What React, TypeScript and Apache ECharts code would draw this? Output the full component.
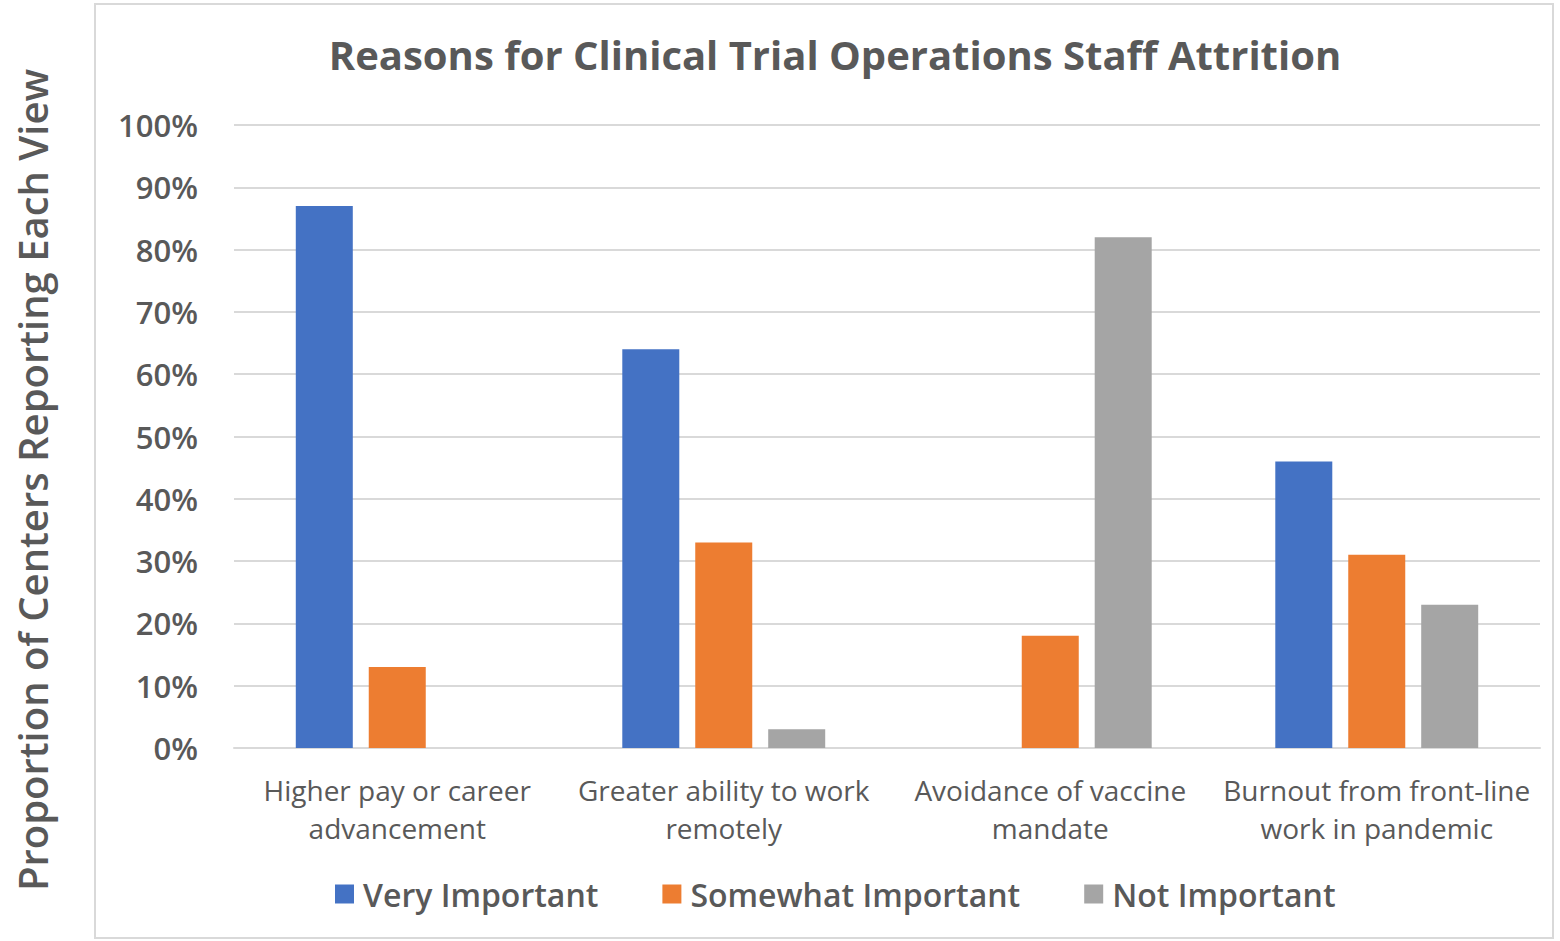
import React, { useEffect, useRef } from "react";
import * as echarts from "echarts";

const categories = [
  "Higher pay or career\nadvancement",
  "Greater ability to work\nremotely",
  "Avoidance of vaccine\nmandate",
  "Burnout from front-line\nwork in pandemic",
];
const veryImportant = [87, 64, 0, 46];
const somewhatImportant = [13, 33, 18, 31];
const notImportant = [0, 3, 82, 23];
const yTicks = { min: 0, max: 100, interval: 10 };

const FONT = "'Open Sans', Lato, sans-serif";
const TXT = "#595959";

export default function App() {
  const ref = useRef<HTMLDivElement>(null);
  useEffect(() => {
    document.body.style.margin = "0";
    const chart = echarts.init(ref.current!, null, { renderer: "svg" });
    const bar = (name: string, data: number[], color: string) => ({
      name,
      type: "bar",
      data,
      barWidth: 57,
      barGap: "28%",
      itemStyle: { color },
    });
    chart.setOption({
      animation: false,
      backgroundColor: "#ffffff",
      textStyle: { fontFamily: FONT },
      title: {
        text: "Reasons for Clinical Trial Operations Staff Attrition",
        left: 830,
        top: 29,
        textAlign: "center",
        textStyle: { fontFamily: FONT, fontSize: 40, fontWeight: "bold", color: TXT },
      },
      legend: {
        bottom: 26,
        left: 330,
        itemWidth: 19,
        itemHeight: 19,
        itemGap: 64,
        icon: "rect",
        textStyle: { fontFamily: FONT, fontSize: 32, color: TXT, fontWeight: 600, padding: [0, 0, 0, 4] },
        data: ["Very Important", "Somewhat Important", "Not Important"],
      },
      grid: { left: 234, right: 20, top: 125, bottom: 193 },
      xAxis: {
        type: "category",
        data: categories,
        axisLine: { lineStyle: { color: "#d9d9d9", width: 2 } },
        axisTick: { show: false },
        axisLabel: {
          fontFamily: FONT,
          fontSize: 28,
          fontWeight: 500,
          color: TXT,
          lineHeight: 38,
          margin: 23,
          interval: 0,
        },
      },
      yAxis: {
        type: "value",
        min: yTicks.min,
        max: yTicks.max,
        interval: yTicks.interval,
        axisLine: { show: false },
        axisTick: { show: false },
        splitLine: { lineStyle: { color: "#d9d9d9", width: 2 } },
        axisLabel: {
          formatter: "{value}%",
          fontFamily: FONT,
          fontSize: 31,
          fontWeight: 600,
          color: TXT,
          margin: 36,
        },
      },
      graphic: [
        {
          type: "rect",
          shape: { x: 95, y: 4, width: 1458, height: 934 },
          style: { fill: "none", stroke: "#d9d9d9", lineWidth: 2 },
          silent: true,
        },
        {
          type: "text",
          x: 32,
          y: 480,
          rotation: Math.PI / 2,
          style: {
            text: "Proportion of Centers Reporting Each View",
            fontFamily: FONT,
            fontSize: 40,
            fill: TXT,
            fontWeight: 600,
            align: "center",
            verticalAlign: "middle",
          },
        },
      ],
      series: [
        bar("Very Important", veryImportant, "#4472C4"),
        bar("Somewhat Important", somewhatImportant, "#ED7D31"),
        bar("Not Important", notImportant, "#A5A5A5"),
      ],
    });
    return () => chart.dispose();
  }, []);
  return <div ref={ref} style={{ width: 1560, height: 941 }} />;
}
